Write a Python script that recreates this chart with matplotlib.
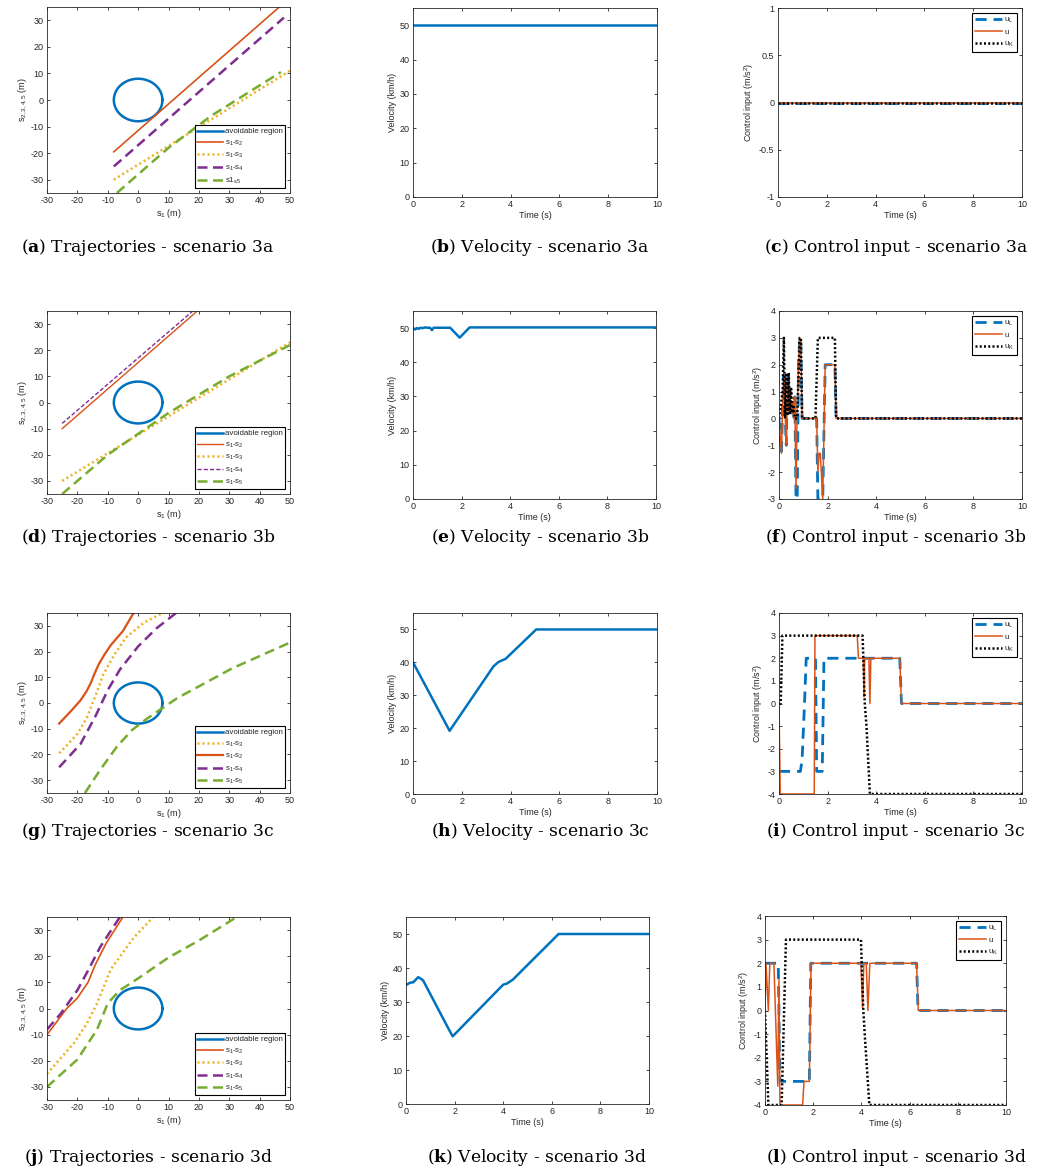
import numpy as np
import matplotlib
matplotlib.use('Agg')
import matplotlib.pyplot as plt
from matplotlib.ticker import FormatStrFormatter

plt.rcParams['font.family'] = ['Liberation Sans', 'DejaVu Sans']
plt.rcParams['mathtext.fontset'] = 'custom'
plt.rcParams['mathtext.rm'] = 'Liberation Sans'
plt.rcParams['mathtext.it'] = 'Liberation Sans'
plt.rcParams['mathtext.bf'] = 'DejaVu Serif:bold'
plt.rcParams['axes.unicode_minus'] = False

# MATLAB default colours
C_BLUE = '#0072BD'
C_ORANGE = '#D95319'
C_YELLOW = '#EDB120'
C_PURPLE = '#7E2F8E'
C_GREEN = '#77AC30'
AX_COL = '#262626'

# avoidable region (circle)
circle_r = 8.0
circle_theta = np.linspace(0, 2 * np.pi, 200)

# ---- scenario 3a ----
a_s2_x = [-8, 46.5]
a_s2_y = [-19.5, 35]
a_s3_x = [-8, 50]
a_s3_y = [-30, 11]
a_s4_x = [-8, 48]
a_s4_y = [-25, 31]
a_s5_x = [-7, 10, 24, 47]
a_s5_y = [-35, -18, -6, 10.5]

b_t = [0, 10]
b_v = [50, 50]

c_t = [0, 10]
c_uL = [0, 0]
c_u = [0, 0]
c_uK = [0, 0]

# ---- scenario 3b ----
d_s2_x = [-25, 19.5]
d_s2_y = [-10, 35]
d_s3_x = [-25, 50]
d_s3_y = [-30, 23]
d_s4_x = [-25, 18]
d_s4_y = [-8, 35]
d_s5_x = [-25, -10, 0, 10, 20, 30, 40, 50]
d_s5_y = [-35, -20, -12, -4, 3, 10, 16, 22]

e_t = [0, 0.1, 0.15, 0.25, 0.3, 0.4, 0.5, 0.6, 0.7, 0.78, 0.85, 1.0, 1.53, 1.92, 2.33, 10]
e_v = [50, 49.6, 50, 49.8, 50.1, 50, 50.2, 50.1, 50.1, 49.4, 50.1, 50.1, 50.1, 47.2, 50.2, 50.2]

f_t_uL = [0, 0.1, 0.15, 0.2, 0.25, 0.3, 0.35, 0.4, 0.45, 0.5, 0.55, 0.6, 0.65, 0.7, 0.75,
          0.8, 0.85, 0.9, 0.95, 1.55, 1.6, 1.8, 1.9, 2.3, 2.35, 10]
f_uL = [0, -1.3, 0.5, 1.6, 0.2, -1, 1.6, 0.3, 1.1, 0.2, 0.6, 0, 0.8, -3, -3,
        1.8, 3, 2.8, 0, 0, -3, -3, 2, 2, 0, 0]
f_t_u = [0, 0.1, 0.15, 0.2, 0.25, 0.3, 0.35, 0.4, 0.45, 0.5, 0.55, 0.6, 0.65, 0.7, 0.75,
         0.85, 0.9, 0.95, 1.55, 1.6, 1.65, 1.7, 1.8, 1.9, 2.3, 2.35, 10]
f_u = [0, -1.3, 0.5, 1.6, 0.2, -1, 1.6, 0.3, 1.1, 0.2, 0.6, 0, 0.8, -2.6, 0.5,
       3, 2.8, 0, 0, -2, -1.3, -1.3, -3, 2, 2, 0, 0]
f_t_uK = [0, 0.15, 0.2, 0.25, 0.3, 0.35, 0.4, 0.45, 0.5, 0.55, 0.6, 0.65, 0.75, 0.85,
          0.9, 0.95, 1.5, 1.6, 2.3, 2.35, 10]
f_uK = [0, 1, 3, 0, 1.7, 0.1, 1.7, 0.2, 1.1, 0.2, 0.5, 0, 0, 3,
        3, 0, 0, 3, 3, 0, 0]

# ---- scenario 3c ----
g_s2_x = [-26, -22, -19, -17, -15.5, -14.5, -13, -11, -9, -5, -1.5]
g_s2_y = [-8, -3, 1, 4.5, 8, 11, 15, 19, 22.5, 28, 35]
g_s3_x = [-26, -23.5, -20, -17, -13.5, -11.5, -8, -4, 2, 8]
g_s3_y = [-19.5, -16.5, -12, -6, 4.5, 11, 18.5, 25.5, 31.3, 35]
g_s4_x = [-26, -19, -14, -10, -6, 0, 6, 12.5]
g_s4_y = [-25, -16, -5, 5, 13, 22, 29, 35]
g_s5_x = [-17.5, -12.5, -7, -2, 3, 8, 13, 31, 50]
g_s5_y = [-35, -26, -17, -10.5, -6, -2, 2, 13.5, 23.5]

h_t = [0, 1.5, 3.3, 3.5, 3.8, 5.05, 10]
h_v = [40, 19.2, 38.8, 40.1, 41.1, 50, 50]

i_t_uL = [0, 0.04, 0.88, 0.95, 1.05, 1.12, 1.5, 1.55, 1.78, 1.85, 4.97, 5.04, 10]
i_uL = [-3, -3, -3, -2.5, 0, 2, 2, -3, -3, 2, 2, 0, 0]
i_t_u = [0, 0.05, 1.45, 1.48, 3.22, 3.27, 3.47, 3.5, 3.53, 3.7, 3.74, 3.78, 4.97, 5.04, 10]
i_u = [0, -4, -4, 3, 3, 2, 2, 0.3, 2, 2, 0, 2, 2, 0, 0]
i_t_uK = [0, 0.07, 0.14, 3.44, 3.53, 3.6, 3.74, 10]
i_uK = [0, 0, 3, 3, 0, -1, -4, -4]

# ---- scenario 3d ----
j_s2_x = [-30, -23.5, -20, -16.5, -14, -10.5, -5]
j_s2_y = [-10, 0, 4, 10, 17, 25, 35]
j_s3_x = [-30, -21, -17, -13.5, -9, -4, -1.5, 5]
j_s3_y = [-25, -13, -6, 2, 15, 23, 27, 35]
j_s4_x = [-30, -25.5, -20, -16.5, -12.5, -6]
j_s4_y = [-8, -2, 7, 14.5, 23.5, 35]
j_s5_x = [-30, -20, -13.5, -10, -6, 0, 10, 20, 32.5]
j_s5_y = [-30, -19.5, -8, 2, 7, 11.5, 19.5, 26, 35]

k_t = [0, 0.18, 0.3, 0.5, 0.6, 0.7, 1.7, 1.92, 4.0, 4.15, 4.4, 6.28, 10]
k_v = [35, 35.7, 35.8, 37.3, 36.9, 36.4, 22.8, 19.9, 35.1, 35.4, 36.6, 50, 50]

l_t_uL = [0, 0.55, 0.62, 1.84, 1.9, 6.29, 6.35, 10]
l_uL = [2, 2, -3, -3, 2, 2, 0, 0]
l_t_u = [0, 0.04, 0.14, 0.2, 0.37, 0.53, 0.58, 0.62, 1.56, 1.62, 1.84, 1.91,
         3.98, 4.05, 4.1, 4.2, 4.27, 4.35, 6.29, 6.36, 10]
l_u = [0, 2, 0, 2, 2, -3.2, 1.3, -4, -4, -3, -3, 2,
       2, 0.1, 2, 2, 0, 2, 2, 0, 0]
l_t_uK = [0, 0.14, 0.69, 0.87, 3.98, 4.08, 4.15, 4.33, 10]
l_uK = [0, -4, -4, 3, 3, 0, -1.2, -4, -4]

captions = [
    ('a', 'Trajectories - scenario 3a'), ('b', 'Velocity - scenario 3a'), ('c', 'Control input - scenario 3a'),
    ('d', 'Trajectories - scenario 3b'), ('e', 'Velocity - scenario 3b'), ('f', 'Control input - scenario 3b'),
    ('g', 'Trajectories - scenario 3c'), ('h', 'Velocity - scenario 3c'), ('i', 'Control input - scenario 3c'),
    ('j', 'Trajectories - scenario 3d'), ('k', 'Velocity - scenario 3d'), ('l', 'Control input - scenario 3d'),
]

# axes boxes in pixels: left, top, right, bottom
boxes = [
    (47, 7, 290, 193), (413, 8, 657, 197), (778, 8, 1022, 197),
    (47, 311, 290, 494), (413, 311, 656, 499), (779, 311, 1022, 499),
    (47, 613, 290, 793), (413, 613, 657, 794), (779, 613, 1022, 794),
    (47, 917, 290, 1100), (406, 917, 649, 1104), (765, 916, 1006, 1105),
]
cap_pos = [(148, 247), (540, 247), (896, 247),
           (148, 537), (540, 537), (896, 537),
           (148, 832), (540, 832), (896, 832),
           (148, 1157), (537, 1157), (896, 1157)]

W, H = 1053, 1174
fig = plt.figure(figsize=(W / 100, H / 100), dpi=100)


def make_ax(k):
    l, t, r, b = boxes[k]
    ax = fig.add_axes([l / W, 1 - b / H, (r - l) / W, (b - t) / H])
    ax.tick_params(direction='in', length=2.5, width=0.6, labelsize=6.5, colors=AX_COL,
                   top=True, right=True, pad=2.5)
    for sp in ax.spines.values():
        sp.set_linewidth(0.6)
        sp.set_color(AX_COL)
    return ax


def style_legend(leg):
    fr = leg.get_frame()
    fr.set_edgecolor('black')
    fr.set_linewidth(0.8)
    fr.set_boxstyle('square', pad=0)
    for txt in leg.get_texts():
        txt.set_color(AX_COL)


def traj_ax(k, lines):
    ax = make_ax(k)
    ax.plot(circle_r * np.cos(circle_theta), circle_r * np.sin(circle_theta),
            color=C_BLUE, lw=1.8, label='avoidable region')
    for x, y, col, ls, lw, lab in lines:
        ax.plot(x, y, color=col, ls=ls, lw=lw, label=lab)
    ax.set_xlim(-30, 50)
    ax.set_ylim(-35, 35)
    ax.set_xticks(np.arange(-30, 51, 10))
    ax.set_yticks(np.arange(-30, 31, 10))
    ax.set_xlabel('s$_1$ (m)', fontsize=6.5, color=AX_COL, labelpad=1)
    ax.set_ylabel('s$_{2,3,4,5}$ (m)', fontsize=6.5, color=AX_COL, labelpad=1)
    leg = ax.legend(loc='lower right', fontsize=5.7, handlelength=3.2, handletextpad=0.3,
                    labelspacing=0.4, borderpad=0.3, borderaxespad=0.6, fancybox=False,
                    framealpha=1)
    style_legend(leg)
    return ax


def vel_ax(k, t, v):
    ax = make_ax(k)
    ax.plot(t, v, color=C_BLUE, lw=1.8)
    ax.set_xlim(0, 10)
    ax.set_ylim(0, 55)
    ax.set_xticks(np.arange(0, 11, 2))
    ax.set_yticks(np.arange(0, 51, 10))
    ax.set_xlabel('Time (s)', fontsize=6.5, color=AX_COL, labelpad=1)
    ax.set_ylabel('Velocity (km/h)', fontsize=6.5, color=AX_COL, labelpad=2)
    return ax


def ctrl_ax(k, tL, uL, tu, u, tK, uK, ylim, yticks):
    ax = make_ax(k)
    ax.plot(tL, uL, color=C_BLUE, lw=2.0, ls=(0, (4, 2.5)), label='u$_L$')
    ax.plot(tu, u, color=C_ORANGE, lw=1.1, label='u')
    ax.plot(tK, uK, color='black', lw=1.8, ls=(0, (0.8, 0.9)), label='u$_K$')
    ax.set_xlim(0, 10)
    ax.set_ylim(*ylim)
    ax.set_xticks(np.arange(0, 11, 2))
    ax.set_yticks(yticks)
    ax.yaxis.set_major_formatter(FormatStrFormatter('%g'))
    ax.set_xlabel('Time (s)', fontsize=6.5, color=AX_COL, labelpad=1)
    ax.set_ylabel('Control input (m/s$^2$)', fontsize=6.5, color=AX_COL, labelpad=2)
    leg = ax.legend(loc='upper right', fontsize=5.7, handlelength=3.4, handletextpad=0.3,
                    labelspacing=0.5, borderpad=0.35, borderaxespad=0.6, fancybox=False,
                    framealpha=1)
    style_legend(leg)
    return ax


dash_thick = (0, (4, 2.2))
dot = (0, (0.8, 1.2))

traj_ax(0, [
    (a_s2_x, a_s2_y, C_ORANGE, '-', 1.2, 's$_1$-s$_2$'),
    (a_s3_x, a_s3_y, C_YELLOW, dot, 1.8, 's$_1$-s$_3$'),
    (a_s4_x, a_s4_y, C_PURPLE, dash_thick, 1.8, 's$_1$-s$_4$'),
    (a_s5_x, a_s5_y, C_GREEN, dash_thick, 1.8, 's1$_{s5}$'),
])
vel_ax(1, b_t, b_v)
ctrl_ax(2, c_t, c_uL, c_t, c_u, c_t, c_uK, (-1, 1), [-1, -0.5, 0, 0.5, 1])

traj_ax(3, [
    (d_s2_x, d_s2_y, C_ORANGE, '-', 1.0, 's$_1$-s$_2$'),
    (d_s3_x, d_s3_y, C_YELLOW, dot, 1.8, 's$_1$-s$_3$'),
    (d_s4_x, d_s4_y, C_PURPLE, (0, (3, 1.5)), 1.0, 's$_1$-s$_4$'),
    (d_s5_x, d_s5_y, C_GREEN, dash_thick, 1.8, 's$_1$-s$_5$'),
])
vel_ax(4, e_t, e_v)
ctrl_ax(5, f_t_uL, f_uL, f_t_u, f_u, f_t_uK, f_uK, (-3, 4), np.arange(-3, 5, 1))

traj_ax(6, [
    (g_s3_x, g_s3_y, C_YELLOW, dot, 1.8, 's$_1$-s$_3$'),
    (g_s2_x, g_s2_y, C_ORANGE, '-', 1.6, 's$_1$-s$_2$'),
    (g_s4_x, g_s4_y, C_PURPLE, dash_thick, 1.8, 's$_1$-s$_4$'),
    (g_s5_x, g_s5_y, C_GREEN, dash_thick, 1.8, 's$_1$-s$_5$'),
])
vel_ax(7, h_t, h_v)
ctrl_ax(8, i_t_uL, i_uL, i_t_u, i_u, i_t_uK, i_uK, (-4, 4), np.arange(-4, 5, 1))

traj_ax(9, [
    (j_s2_x, j_s2_y, C_ORANGE, '-', 1.2, 's$_1$-s$_2$'),
    (j_s3_x, j_s3_y, C_YELLOW, dot, 1.8, 's$_1$-s$_3$'),
    (j_s4_x, j_s4_y, C_PURPLE, dash_thick, 1.8, 's$_1$-s$_4$'),
    (j_s5_x, j_s5_y, C_GREEN, dash_thick, 1.8, 's$_1$-s$_5$'),
])
vel_ax(10, k_t, k_v)
ctrl_ax(11, l_t_uL, l_uL, l_t_u, l_u, l_t_uK, l_uK, (-4, 4), np.arange(-4, 5, 1))

for (letter, text), (cx, cy) in zip(captions, cap_pos):
    fig.text(cx / W, 1 - cy / H, '($\\mathbf{' + letter + '}$) ' + text,
             ha='center', va='center', fontsize=12.3, family='DejaVu Serif', color='black')

fig.savefig('out.png', dpi=100)
